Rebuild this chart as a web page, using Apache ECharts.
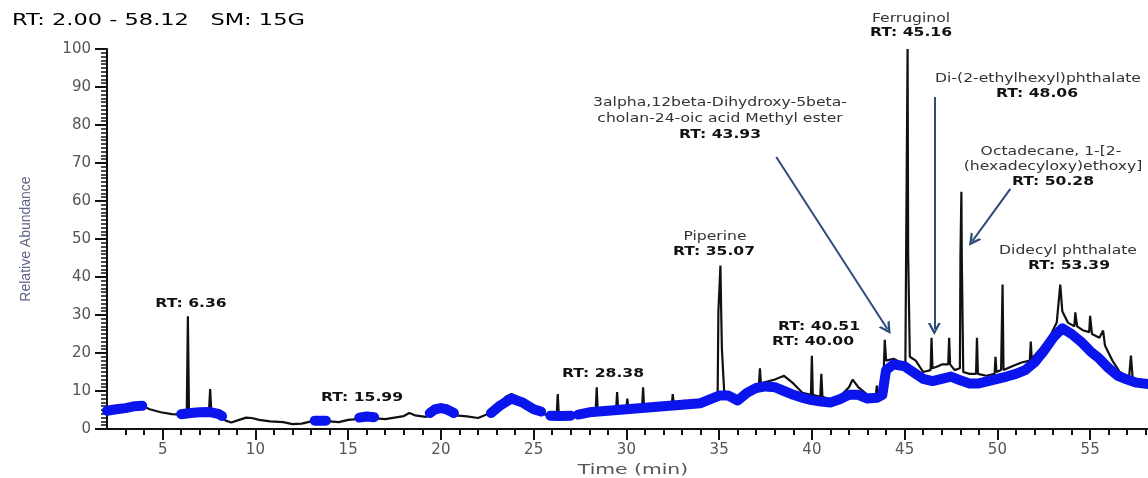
<!DOCTYPE html>
<html>
<head>
<meta charset="utf-8">
<script src="https://cdn.jsdelivr.net/npm/echarts@6/dist/echarts.min.js"></script>
<style>
html, body { margin: 0; padding: 0; background: #fff; }
#chart { width: 1148px; height: 478px; }
</style>
</head>
<body>
<div id="chart"></div>
<script>
// total ion chromatogram (black trace)
const ticTime = [
    2.0, 2.5, 3.0, 3.5, 3.8, 4.3, 4.9, 5.5, 6.0, 6.3, 6.36, 6.42, 6.8, 7.2, 7.5, 7.56, 7.62, 8.0, 8.4, 8.7,
    9.0, 9.5, 9.8, 10.2, 10.8, 11.5, 12.0, 12.5, 13.0, 13.5, 14.0, 14.5, 15.0, 15.5, 16.0, 16.5, 17.0, 17.5, 18.0, 18.3,
    18.6, 19.2, 19.6, 20.0, 20.4, 20.8, 21.4, 22.0, 22.5, 23.0, 23.5, 23.8, 24.2, 24.7, 25.2, 25.6, 26.0, 26.25, 26.3, 26.35,
    26.7, 27.1, 27.6, 28.0, 28.35, 28.4, 28.45, 28.9, 29.45, 29.5, 29.55, 30.0, 30.05, 30.1, 30.5, 30.85, 30.9, 30.95, 31.5, 32.0,
    32.45, 32.5, 32.55, 33.1, 33.6, 34.1, 34.6, 34.92, 34.96, 35.03, 35.07, 35.11, 35.15, 35.2, 35.27, 35.6, 36.1, 36.6, 37.0, 37.15,
    37.2, 37.25, 37.6, 38.0, 38.5, 39.0, 39.5, 39.95, 40.0, 40.05, 40.45, 40.51, 40.57, 41.0, 41.5, 42.0, 42.2, 42.5, 43.0, 43.45,
    43.5, 43.55, 43.85, 43.93, 44.0, 44.4, 44.8, 45.04, 45.08, 45.13, 45.16, 45.19, 45.24, 45.28, 45.6, 46.0, 46.4, 46.45, 46.5, 46.8,
    47.0, 47.35, 47.4, 47.45, 47.7, 47.98, 48.01, 48.04, 48.06, 48.08, 48.12, 48.16, 48.5, 48.85, 48.9, 48.95, 49.4, 49.85, 49.9, 49.95,
    50.2, 50.28, 50.33, 50.8, 51.3, 51.75, 51.8, 51.85, 52.3, 52.8, 53.2, 53.39, 53.5, 53.8, 54.15, 54.2, 54.3, 54.6, 54.95, 55.0,
    55.1, 55.5, 55.7, 55.8, 56.2, 56.6, 57.1, 57.2, 57.3, 57.7, 58.12
];
const ticAbundance = [
    4.8, 5.2, 5.6, 6.2, 6.3, 5.2, 4.4, 3.9, 3.8, 4.0, 29.7, 4.2, 4.4, 4.5, 4.8, 10.5, 5.0, 4.0, 2.2, 1.7,
    2.2, 3.0, 2.9, 2.4, 2.0, 1.8, 1.3, 1.4, 2.0, 2.2, 2.0, 1.8, 2.4, 2.6, 3.2, 2.8, 2.6, 3.0, 3.4, 4.2,
    3.6, 3.2, 4.8, 5.6, 5.0, 3.6, 3.3, 2.9, 3.9, 6.0, 8.5, 9.2, 8.3, 6.5, 4.8, 3.8, 4.0, 4.4, 9.2, 4.4,
    3.9, 3.8, 4.4, 4.8, 5.2, 11.0, 5.4, 5.2, 5.4, 9.7, 5.5, 5.5, 8.0, 5.6, 5.6, 5.8, 11.0, 6.0, 6.2, 6.4,
    6.6, 9.2, 6.8, 7.4, 7.0, 7.4, 8.4, 9.0, 31.0, 31.0, 43.0, 31.0, 21.0, 21.0, 10.0, 9.2, 7.8, 10.0, 11.5, 11.8,
    16.0, 12.0, 12.5, 13.0, 14.0, 12.0, 9.5, 9.0, 19.3, 9.0, 8.5, 14.5, 8.5, 7.8, 8.5, 11.0, 13.0, 11.0, 9.0, 9.0,
    11.4, 9.0, 12.0, 23.5, 18.0, 18.5, 17.5, 17.0, 46.0, 46.0, 100.0, 46.0, 46.0, 19.0, 18.0, 15.0, 15.5, 24.0, 16.0, 16.5,
    17.0, 17.0, 24.0, 17.0, 15.5, 16.0, 45.6, 45.6, 62.4, 45.6, 45.6, 15.0, 14.5, 14.5, 24.0, 14.5, 14.0, 14.5, 19.0, 15.0,
    15.5, 38.0, 15.5, 16.5, 17.5, 18.0, 23.0, 18.5, 21.0, 24.0, 28.0, 38.0, 31.0, 28.0, 27.0, 30.7, 27.0, 26.0, 25.5, 29.8,
    25.0, 24.0, 25.9, 22.0, 18.0, 15.0, 13.5, 19.3, 13.0, 12.5, 12.2
];

// smoothed baseline (blue band), null = gap
const baseTime = [
    2.0, 2.5, 3.0, 3.5, 3.9, 4.0,
    6.0, 6.5, 7.0, 7.5, 8.0, 8.2, 8.3,
    13.2, 13.5, 13.8, 13.9,
    15.6, 16.0, 16.4, 16.5,
    19.4, 19.7, 20.0, 20.3, 20.7, 20.8,
    22.7, 23.2, 23.8, 24.4, 25.0, 25.4, 25.5,
    25.9, 26.4, 27.0, 27.2,
    27.4, 28.0, 29.0, 30.0, 31.0, 32.0, 33.0, 34.0, 35.0, 35.5, 36.0, 36.5, 37.0, 37.5, 38.0, 38.5,
    39.0, 39.5, 40.0, 40.5, 41.0, 41.5, 42.0, 42.5, 43.0, 43.5, 43.8, 44.0, 44.4, 45.0, 45.6, 46.0,
    46.5, 47.0, 47.5, 48.0, 48.5, 49.0, 49.5, 50.0, 50.5, 51.0, 51.5, 52.0, 52.5, 53.0, 53.5, 54.0,
    54.5, 55.0, 55.5, 56.0, 56.5, 57.0, 57.5, 58.12
];
const baseAbundance = [
    4.8, 5.2, 5.5, 6.0, 6.1, null,
    3.9, 4.2, 4.4, 4.5, 4.0, 3.4, null,
    2.2, 2.2, 2.2, null,
    3.0, 3.3, 3.1, null,
    4.2, 5.2, 5.5, 5.2, 4.2, null,
    4.2, 6.2, 8.0, 7.0, 5.2, 4.6, null,
    3.5, 3.4, 3.5, null,
    3.8, 4.4, 4.8, 5.2, 5.6, 6.0, 6.4, 6.8, 8.8, 8.8, 7.5, 9.5, 10.8, 11.2, 11.0, 10.0,
    9.0, 8.2, 7.6, 7.2, 7.0, 7.8, 9.0, 9.0, 8.0, 8.2, 9.0, 15.5, 17.0, 16.5, 14.5, 13.2,
    12.6, 13.2, 13.8, 12.8, 12.0, 12.0, 12.6, 13.2, 13.8, 14.5, 15.5, 17.5, 20.5, 24.0, 26.5, 25.0,
    23.0, 20.5, 18.5, 16.0, 14.0, 13.0, 12.2, 11.8
];

const xTicks = [5, 10, 15, 20, 25, 30, 35, 40, 45, 50, 55];

// annotation arrows, [time, abundance]
const arrowFrom = [[38.08, 71.6], [46.6, 87.4], [50.7, 63.2]];
const arrowTo = [[44.07, 26.3], [46.6, 26.3], [48.66, 49.5]];

const chart = echarts.init(document.getElementById('chart'));

const STRETCH = 1.3;
function label(x, y, text, bold) {
    return {
        type: 'text',
        x: x,
        y: y,
        scaleX: STRETCH,
        silent: true,
        style: {
            text: text,
            fontFamily: 'DejaVu Sans',
            fontSize: 12,
            fontWeight: bold ? 'bold' : 'normal',
            fill: bold ? '#111' : '#333',
            textAlign: 'center',
            align: 'center',
            textVerticalAlign: 'middle',
            verticalAlign: 'middle'
        }
    };
}

const chevron = 'path://M0,10 L5,0 L10,10 L8,10 L5,4 L2,10 Z';

chart.setOption({
    animation: false,
    backgroundColor: '#fff',
    grid: { left: 107, right: 0, top: 49, bottom: 49 },
    xAxis: {
        type: 'value',
        min: 2,
        max: 58.12,
        splitNumber: 11,
        axisLine: { lineStyle: { color: '#111', width: 2 } },
        axisTick: { customValues: xTicks, length: 11, lineStyle: { color: '#111', width: 2 } },
        minorTick: { show: true, splitNumber: 5, length: 6, lineStyle: { color: '#111', width: 2 } },
        axisLabel: {
            customValues: xTicks,
            margin: 14,
            fontSize: 15,
            fontFamily: 'DejaVu Sans',
            color: '#555'
        },
        splitLine: { show: false }
    },
    yAxis: {
        type: 'value',
        min: 0,
        max: 100,
        interval: 10,
        name: 'Relative Abundance',
        nameLocation: 'middle',
        nameGap: 74,
        nameRotate: 90,
        nameTextStyle: { fontFamily: 'Liberation Sans', fontSize: 14, color: '#5f6485' },
        axisLine: { show: true, lineStyle: { color: '#111', width: 2 } },
        axisTick: { show: true, length: 12, lineStyle: { color: '#111', width: 2 } },
        minorTick: { show: true, splitNumber: 10, length: 6, lineStyle: { color: '#111', width: 1.5 } },
        axisLabel: { margin: 16, fontSize: 15, fontFamily: 'DejaVu Sans', color: '#555' },
        splitLine: { show: false }
    },
    series: [
        {
            name: 'TIC',
            type: 'line',
            data: ticTime.map((t, i) => [t, ticAbundance[i]]),
            showSymbol: false,
            symbol: 'none',
            lineStyle: { color: '#111', width: 2.2 },
            silent: true,
            markLine: {
                silent: true,
                symbol: ['none', chevron],
                symbolSize: [13, 12],
                label: { show: false },
                lineStyle: { color: '#2e4c78', width: 2, type: 'solid' },
                data: arrowFrom.map((p, i) => [{ coord: p }, { coord: arrowTo[i] }])
            }
        },
        {
            name: 'Baseline',
            type: 'line',
            data: baseTime.map((t, i) => [t, baseAbundance[i]]),
            connectNulls: false,
            showSymbol: false,
            symbol: 'none',
            lineStyle: { color: '#0a14ec', width: 10, cap: 'round', join: 'round' },
            silent: true
        }
    ],
    graphic: [
        {
            type: 'text',
            x: 12,
            y: 21,
            scaleX: 1.5,
            silent: true,
            style: {
                text: '{k|RT:} {v|2.00 - 58.12}   {k|SM:} {w|15G}',
                fontFamily: 'DejaVu Sans',
                fontSize: 15,
                textVerticalAlign: 'middle',
                verticalAlign: 'middle',
                rich: {
                    k: { fontFamily: 'DejaVu Sans', fontSize: 15, color: '#444' },
                    v: { fontFamily: 'DejaVu Sans', fontSize: 15, color: '#3d3d9e' },
                    w: { fontFamily: 'DejaVu Sans', fontSize: 15, color: '#4a4ab8' }
                }
            }
        },
        {
            type: 'text',
            x: 633,
            y: 470,
            scaleX: 1.45,
            silent: true,
            style: {
                text: 'Time (min)',
                fontFamily: 'DejaVu Sans',
                fontSize: 14,
                fill: '#555',
                textAlign: 'center',
                align: 'center',
                textVerticalAlign: 'middle',
                verticalAlign: 'middle'
            }
        },
        label(191, 304, 'RT: 6.36', true),
        label(362, 398, 'RT: 15.99', true),
        label(603, 374, 'RT: 28.38', true),
        label(715, 237, 'Piperine', false),
        label(714, 252, 'RT: 35.07', true),
        label(819, 327, 'RT: 40.51', true),
        label(813, 342, 'RT: 40.00', true),
        label(720, 103, '3alpha,12beta-Dihydroxy-5beta-', false),
        label(720, 119, 'cholan-24-oic acid Methyl ester', false),
        label(720, 135, 'RT: 43.93', true),
        label(911, 19, 'Ferruginol', false),
        label(911, 33, 'RT: 45.16', true),
        label(1038, 79, 'Di-(2-ethylhexyl)phthalate', false),
        label(1037, 94, 'RT: 48.06', true),
        label(1051, 152, 'Octadecane, 1-[2-', false),
        label(1053, 167, '(hexadecyloxy)ethoxy]', false),
        label(1053, 182, 'RT: 50.28', true),
        label(1068, 251, 'Didecyl phthalate', false),
        label(1069, 266, 'RT: 53.39', true)
    ]
});
</script>
</body>
</html>
